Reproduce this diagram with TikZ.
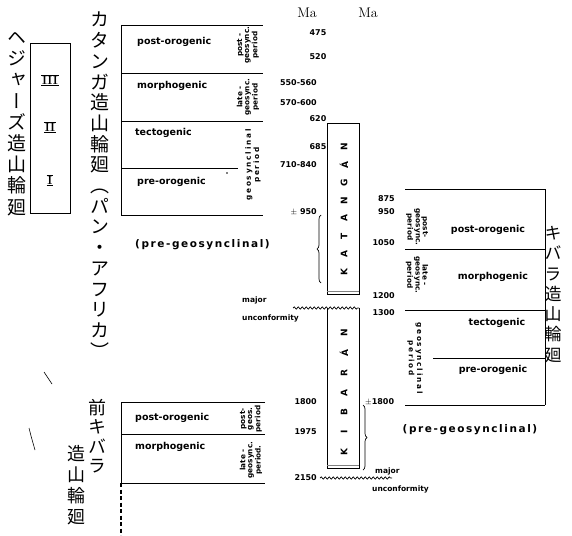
\documentclass[tikz,border=0pt]{standalone}
\usepackage{fontspec}
\usetikzlibrary{decorations.pathmorphing,decorations.pathreplacing}
\newfontfamily\sans{DejaVu Sans}
\newfontfamily\sanssp[LetterSpace=15]{DejaVu Sans}
\newfontfamily\sansspp[LetterSpace=25]{DejaVu Sans}
\newfontfamily\jp[RawFeature=+vert]{Noto Sans CJK JP}
\begin{document}
\begin{tikzpicture}[x=1pt,y=-1pt,
  ln/.style={line width=0.9pt},
  lbl/.style={font=\sans\fontsize{9.5}{11}\selectfont\bfseries, inner sep=0},
  lblsp/.style={font=\sanssp\fontsize{10.5}{12}\selectfont\bfseries, inner sep=0},
  num/.style={font=\sans\fontsize{8}{9}\selectfont\bfseries, inner sep=0},
  per/.style={font=\sans\fontsize{7.3}{7}\selectfont\bfseries, inner sep=0, align=center},
  persp/.style={font=\sansspp\fontsize{7.3}{7}\selectfont\bfseries, inner sep=0, align=center},
  sm/.style={font=\sans\fontsize{7.5}{8}\selectfont\bfseries, inner sep=0},
  kl/.style={font=\sans\fontsize{9}{10}\selectfont\bfseries, inner sep=0, rotate=90},
  jvp/.style n args={2}{font=\jp\fontsize{#1}{#2}\selectfont, align=center, inner sep=0},
  rn/.style={font=\rmfamily\bfseries\fontsize{12}{12}\selectfont, inner sep=0.6pt},
  ma/.style={font=\rmfamily\fontsize{14}{14}\selectfont, inner sep=0},
  wavy/.style={line width=0.7pt, decorate, decoration={snake, segment length=4pt, amplitude=1.1pt}},
  brc/.style={line width=0.7pt, decorate, decoration={brace, amplitude=4pt}}
]
\fill[white] (0,0) rectangle (572,535);
\useasboundingbox (0,0) rectangle (572,535);

% ---------- Japanese vertical texts ----------
\node[jvp={19}{20.7}, anchor=north] (katj) at (100,12) {カ\\タ\\ン\\ガ\\造\\山\\輪\\廻\\︵\\パ\\ン\\・\\ア\\フ\\リ\\カ\\︶};
\node[jvp={19}{21.2}, anchor=north] (hej) at (17,32) {ヘ\\ジ\\ャ\\ー\\ズ\\造\\山\\輪\\廻};
\node[jvp={17}{20.3}, anchor=north] (kibj) at (553,226) {キ\\バ\\ラ\\造\\山\\輪\\廻};
\node[jvp={18}{19.4}, anchor=north] (prej) at (97,399) {前\\キ\\バ\\ラ};
\node[jvp={18}{21}, anchor=north] (prej2) at (76,445) {造\\山\\輪\\廻};

% ---------- Roman numeral box ----------
\draw[ln] (30,43) rectangle (70,213);
\node[rn] (r3) at (50,80) {III};
\node[rn] (r2) at (50,127) {II};
\node[rn] (r1) at (50,180) {I};
\foreach \r in {r1,r2,r3}{
  \draw[line width=0.7pt] (\r.north west) -- (\r.north east);
  \draw[line width=0.7pt] (\r.south west) -- (\r.south east);
}
% stray marks
\draw[line width=0.6pt] (44,372) -- (52,384);
\draw[line width=0.6pt] (29,428) .. controls (31,436) .. (35,450);

% ---------- Top-left table (Katangan cycle) ----------
\draw[ln] (121,25) -- (121,215);
\draw[ln] (121,25) -- (263,25);
\draw[ln] (121,73) -- (263,73);
\draw[ln] (121,121) -- (263,121);
\draw[ln] (121,168) -- (238,168);
\draw[ln] (121,215) -- (263,215);
\fill (227,173) circle (0.8);
\node[lbl, anchor=west] (tpo) at (137,42) {post-orogenic};
\node[lbl, anchor=west] (tmo) at (137,86) {morphogenic};
\node[lbl, anchor=west] (tte) at (135,133) {tectogenic};
\node[lbl, anchor=west] (tpr) at (137,182) {pre-orogenic};
\node[per, rotate=90] (tp1) at (248,45) {post -\\geosync.\\period};
\node[per, rotate=90] (tp2) at (248,97) {late -\\geosync.\\period};
\node[persp, rotate=90] (tp3) at (253,165) {geosynclinal\\period};
\node[lblsp, anchor=west] (tpg) at (135,245) {(pre-geosynclinal)};

% ---------- Ma columns ----------
\node[ma] (ma1) at (307,13) {Ma};
\node[ma] (ma2) at (368,13) {Ma};
\node[num] (n475) at (318,33) {475};
\node[num] (n520) at (318,57) {520};
\node[num, anchor=east] (n550) at (317,83) {550-560};
\node[num, anchor=east] (n570) at (317,103) {570-600};
\node[num] (n620) at (318,119) {620};
\node[num] (n685) at (318,147) {685};
\node[num, anchor=east] (n710) at (317,165) {710-840};
\node[num, anchor=east] (n950l) at (317,212) {$\pm$ 950};

% ---------- Katangan box ----------
\draw[ln] (327,123) rectangle (359,294);
\draw[line width=1.4pt, gray] (327,291.5) -- (359,291.5);
\foreach \l [count=\i] in {K,A,T,A,N,G,Á,N}
  \node[kl] (kat\i) at (344,{272-17.9*(\i-1)}) {\l};
\draw[brc] (321,283) -- (321,215);

% unconformity (upper)
\draw[wavy] (293,308) -- (359,308);
\node[sm, anchor=west] (maj1) at (242,300) {major};
\node[sm, anchor=west] (unc1) at (242,318) {unconformity};

% ---------- Kibaran box ----------
\draw[ln] (327,308) -- (327,468) -- (359,468) -- (359,308);
\draw[line width=1.4pt, gray] (327,465.5) -- (359,465.5);
\foreach \l [count=\i] in {K,I,B,A,R,Á,N}
  \node[kl] (kib\i) at (344,{452-19.8*(\i-1)}) {\l};
\draw[brc] (363,405) -- (363,470);

\node[num, anchor=east] (n1800) at (317,402) {1800};
\node[num, anchor=east] (n1975) at (317,432) {1975};
\node[num, anchor=east] (n2150) at (317,478) {2150};
\node[num, anchor=west] (n1800r) at (365,402) {$\pm$1800};
\draw[wavy] (320,478) -- (392,478);
\node[sm, anchor=west] (maj2) at (375,471) {major};
\node[sm, anchor=west] (unc2) at (372,489) {unconformity};

% ---------- right numbers ----------
\node[num, anchor=east] (n875) at (395,199) {875};
\node[num, anchor=east] (n950) at (395,212) {950};
\node[num, anchor=east] (n1050) at (395,243) {1050};
\node[num, anchor=east] (n1200) at (395,296) {1200};
\node[num, anchor=east] (n1300) at (395,313) {1300};

% ---------- Right table (Kibaran cycle) ----------
\draw[ln] (405,189) -- (545,189);
\draw[ln] (405,249) -- (545,249);
\draw[ln] (405,310) -- (545,310);
\draw[ln] (433,358) -- (545,358);
\draw[ln] (405,405) -- (545,405);
\draw[ln] (545,189) -- (545,405);
\node[lbl] (rpo) at (488,230) {post-orogenic};
\node[lbl] (rmo) at (493,277) {morphogenic};
\node[lbl] (rte) at (497,323) {tectogenic};
\node[lbl] (rpr) at (493,370) {pre-orogenic};
\node[per, rotate=-90] (rp1) at (417,227) {post-\\geosync.\\period};
\node[per, rotate=-90] (rp2) at (417,275) {late -\\geosync.\\period};
\node[persp, rotate=-90] (rp3) at (415,358) {geosynclinal\\period};
\node[lblsp] (rpg) at (470,430) {(pre-geosynclinal)};

% ---------- Bottom-left table (pre-Kibaran) ----------
\draw[ln] (265,402) -- (121,402) -- (121,483) -- (265,483);
\draw[ln] (121,434) -- (265,434);
\draw[line width=1.1pt, dash pattern=on 4pt off 2.5pt] (121,483) -- (121,535);
\node[lbl, anchor=west] (bpo) at (135,418) {post-orogenic};
\node[lbl, anchor=west] (bmo) at (135,447) {morphogenic};
\node[per, rotate=90] (bp1) at (251,419) {post-\\geos.\\period};
\node[per, rotate=90] (bp2) at (251,460) {late -\\geosync.\\period.};
\end{tikzpicture}
\end{document}
